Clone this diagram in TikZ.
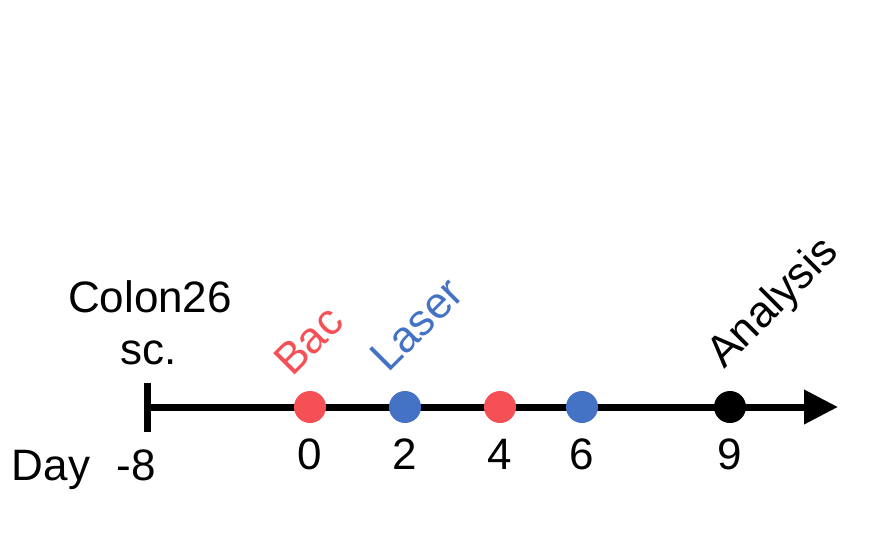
\documentclass[tikz,border=0pt]{standalone}
\usepackage{fontspec}
\setmainfont{Liberation Sans}
\usetikzlibrary{positioning,arrows.meta}
\definecolor{bacred}{RGB}{245,80,85}
\definecolor{laserblue}{RGB}{68,114,196}
\tikzstyle{dot} = [circle, inner sep=0pt, minimum size=32pt]
\tikzstyle{line} = [draw, line width=7pt, -{Triangle[length=34pt,width=33pt]}]
\tikzstyle{daylabel} = [font=\fontsize{44}{50}\selectfont, inner sep=0pt, anchor=base]
\tikzstyle{event} = [font=\fontsize{44}{50}\selectfont, inner sep=0pt, anchor=base west, rotate=45]

\begin{document}
\begin{tikzpicture}[x=1pt, y=-1pt]
    \useasboundingbox (0,0) rectangle (889,554);
    % Place nodes
    \coordinate (start) at (147,407);
    \coordinate (end) at (838,407);
    \coordinate (ticktop) at (147,383);
    \coordinate (tickbot) at (147,432);
    % Draw edges
    \path [line] (start) -- (end);
    \draw [line width=7pt] (ticktop) -- (tickbot);
    % Place dots
    \node [dot, fill=bacred] (d0) at (310,407) {};
    \node [dot, fill=laserblue] (d2) at (405,407) {};
    \node [dot, fill=bacred] (d4) at (500,407) {};
    \node [dot, fill=laserblue] (d6) at (582,407) {};
    \node [dot, fill=black] (d9) at (730,407) {};
    % Day labels
    \node [daylabel] (day) at (51,480) {Day};
    \node [daylabel] (dm8) at (136,480) {-8};
    \node [daylabel] at (d0 |- day) {0};
    \node [daylabel] at (d2 |- day) {2};
    \node [daylabel] at (d4 |- day) {4};
    \node [daylabel] at (d6 |- day) {6};
    \node [daylabel] at (d9 |- day) {9};
    % Events
    \node [daylabel] (colon) at (150,312) {Colon26};
    \node [daylabel] (sc) at (149,364) {sc.};
    \node [event, text=bacred] (bac) at (292,378) {Bac};
    \node [event, text=laserblue] (laser) at (388,374) {Laser};
    \node [event] (analysis) at (724,370) {Analysis};
\end{tikzpicture}
\end{document}
